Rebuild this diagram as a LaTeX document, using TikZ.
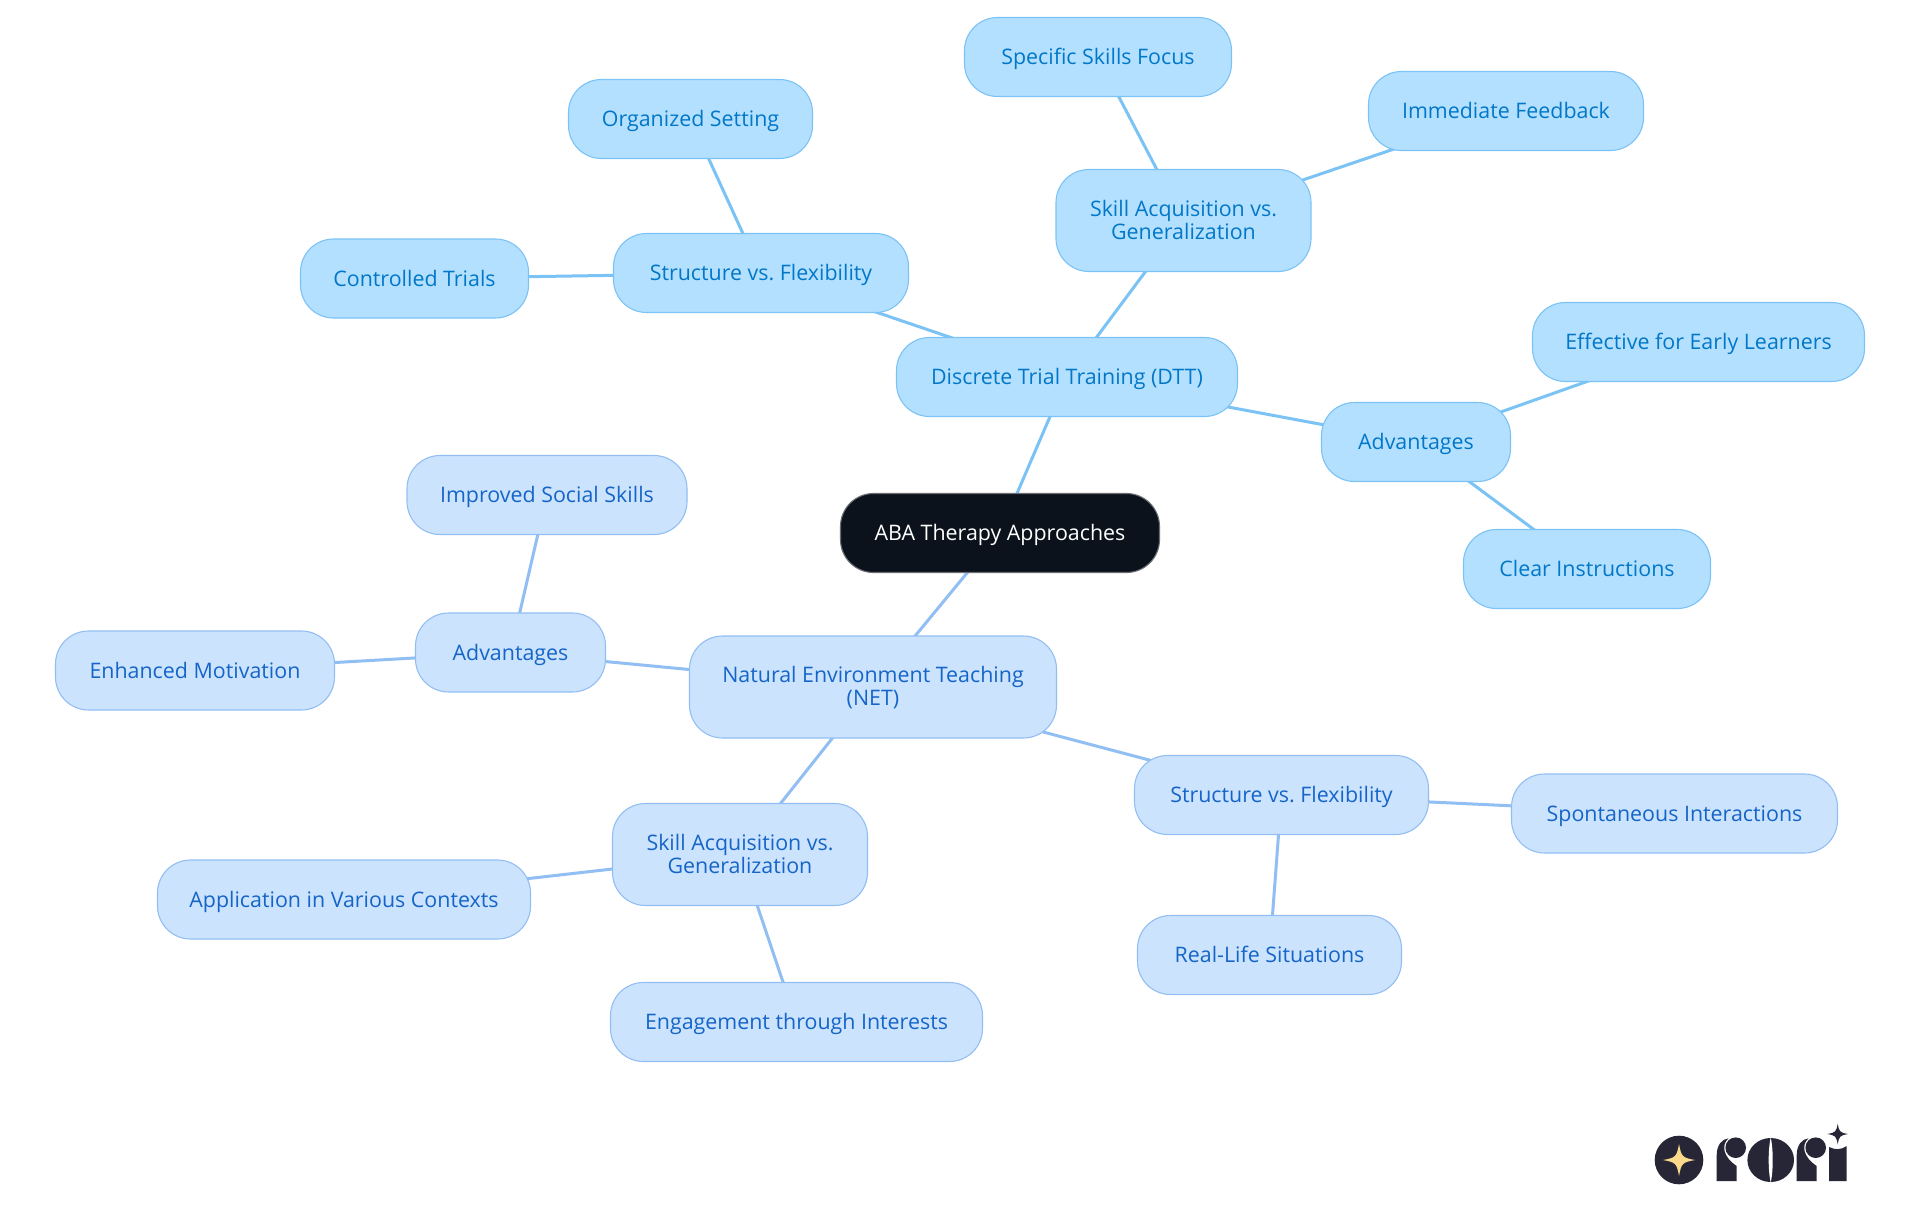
\documentclass[tikz,border=0pt]{standalone}
\usepackage{fontspec}
\setmainfont{Open Sans}
\usetikzlibrary{backgrounds}
\definecolor{rootfill}{HTML}{0B121B}
\definecolor{rootline}{HTML}{6B6F75}
\definecolor{upfill}{HTML}{B3E0FF}
\definecolor{upline}{HTML}{7CC3F5}
\definecolor{uptext}{HTML}{0277C8}
\definecolor{lowfill}{HTML}{CCE3FD}
\definecolor{lowline}{HTML}{92BFF3}
\definecolor{lowtext}{HTML}{1565C8}
\definecolor{logodark}{HTML}{272636}
\definecolor{logostar}{HTML}{FBD98A}
\newcommand{\twolines}[2]{\raisebox{0pt}[16pt][4pt]{#1}\\\raisebox{0pt}[10pt][1.6pt]{#2}}
\tikzset{
  x=1pt,y=-1pt,
  pill/.style={rectangle,rounded corners=33pt,line width=1.1pt,inner sep=0pt,align=center,
    font=\fontsize{21.4}{23.4}\selectfont\frenchspacing,minimum height=79pt},
  oneline/.style={text height=18pt,text depth=3pt},
  twoline/.style={minimum height=102pt},
  rootpill/.style={pill,fill=rootfill,draw=rootline,text=white},
  uppill/.style={pill,fill=upfill,draw=upline,text=uptext},
  lowpill/.style={pill,fill=lowfill,draw=lowline,text=lowtext},
  upedge/.style={draw=upline,line width=3pt},
  lowedge/.style={draw=lowline,line width=3pt},
  sparkle/.style={fill,line width=0pt},
}
\newcommand{\sparkleat}[3]{% centre x, y, arm
  \path[sparkle] (#1-#3,#2) .. controls (#1-0.2*#3,#2-0.15*#3) and (#1-0.15*#3,#2-0.2*#3) .. (#1,#2-#3)
   .. controls (#1+0.15*#3,#2-0.2*#3) and (#1+0.2*#3,#2-0.15*#3) .. (#1+#3,#2)
   .. controls (#1+0.2*#3,#2+0.15*#3) and (#1+0.15*#3,#2+0.2*#3) .. (#1,#2+#3)
   .. controls (#1-0.15*#3,#2+0.2*#3) and (#1-0.2*#3,#2+0.15*#3) .. (#1-#3,#2) -- cycle;}
\begin{document}
\begin{tikzpicture}
\useasboundingbox (0,0) rectangle (1920,1215);
\node[rootpill,oneline,minimum width=319pt] (root) at (1000,533) {ABA Therapy Approaches};
\node[uppill,oneline,minimum width=341pt] (dtt) at (1067,377) {Discrete Trial Training (DTT)};
\node[uppill,oneline,minimum width=244pt] (org) at (690.5,119) {Organized Setting};
\node[uppill,oneline,minimum width=295pt] (svf) at (761,273) {Structure vs. Flexibility};
\node[uppill,oneline,minimum width=228pt] (ctrl) at (414.5,278.5) {Controlled Trials};
\node[uppill,oneline,minimum width=267pt] (spec) at (1098,57) {Specific Skills Focus};
\node[uppill,oneline,minimum width=275pt] (imm) at (1506,111) {Immediate Feedback};
\node[uppill,twoline,minimum width=255pt] (skill) at (1183.5,220.5) {\twolines{Skill Acquisition vs.}{Generalization}};
\node[uppill,oneline,minimum width=189pt] (adv) at (1416,442) {Advantages};
\node[uppill,oneline,minimum width=332pt] (eff) at (1698.5,342) {Effective for Early Learners};
\node[uppill,oneline,minimum width=247pt] (clear) at (1587,569) {Clear Instructions};
\node[lowpill,twoline,minimum width=367pt] (net) at (873,687) {\twolines{Natural Environment Teaching}{(NET)}};
\node[lowpill,oneline,minimum width=190pt] (advl) at (510.5,652.5) {Advantages};
\node[lowpill,oneline,minimum width=280pt] (impr) at (547,495) {Improved Social Skills};
\node[lowpill,oneline,minimum width=279pt] (enh) at (195,670.5) {Enhanced Motivation};
\node[lowpill,twoline,minimum width=255pt] (skilll) at (740,854.5) {\twolines{Skill Acquisition vs.}{Generalization}};
\node[lowpill,oneline,minimum width=373pt] (app) at (344,899.5) {Application in Various Contexts};
\node[lowpill,oneline,minimum width=372pt] (eng) at (796.5,1022) {Engagement through Interests};
\node[lowpill,oneline,minimum width=294pt] (svfl) at (1281.5,795) {Structure vs. Flexibility};
\node[lowpill,oneline,minimum width=326pt] (spon) at (1674.5,813.5) {Spontaneous Interactions};
\node[lowpill,oneline,minimum width=264pt] (real) at (1269.5,955) {Real-Life Situations};
\begin{scope}[on background layer]
\fill[white] (0,0) rectangle (1920,1215);
\draw[upedge] (root.center) -- (dtt.center);
\draw[upedge] (dtt.center) -- (svf.center);
\draw[upedge] (svf.center) -- (org.center);
\draw[upedge] (svf.center) -- (ctrl.center);
\draw[upedge] (dtt.center) -- (skill.center);
\draw[upedge] (skill.center) -- (spec.center);
\draw[upedge] (skill.center) -- (imm.center);
\draw[upedge] (dtt.center) -- (adv.center);
\draw[upedge] (adv.center) -- (eff.center);
\draw[upedge] (adv.center) -- (clear.center);
\draw[lowedge] (root.center) -- (net.center);
\draw[lowedge] (net.center) -- (advl.center);
\draw[lowedge] (advl.center) -- (impr.center);
\draw[lowedge] (advl.center) -- (enh.center);
\draw[lowedge] (net.center) -- (skilll.center);
\draw[lowedge] (skilll.center) -- (app.center);
\draw[lowedge] (skilll.center) -- (eng.center);
\draw[lowedge] (net.center) -- (svfl.center);
\draw[lowedge] (svfl.center) -- (spon.center);
\draw[lowedge] (svfl.center) -- (real.center);
\end{scope}
% logo
\fill[logodark] (1679,1160) circle (24.3);
\begin{scope}[logostar]
\sparkleat{1679}{1160}{16}
\end{scope}
\begin{scope}[logodark]
% first r
\fill (1716.7,1181) -- (1716.7,1155) .. controls (1716.7,1145) and (1722,1139) .. (1728.5,1138.3)
  .. controls (1721,1145) and (1723,1157) .. (1736.7,1166) -- (1736.7,1181) -- cycle;
\fill (1735.7,1147.7) circle (10.3);
% o
\fill (1770.7,1160) ellipse (23.3 and 22);
\fill[white] (1770.7,1137) .. controls (1768,1150) and (1768,1170) .. (1770.7,1183)
  .. controls (1773.4,1170) and (1773.4,1150) .. (1770.7,1137) -- cycle;
% second r
\fill (1796.7,1181) -- (1796.7,1155) .. controls (1796.7,1145) and (1802,1139) .. (1808.5,1138.3)
  .. controls (1801,1145) and (1803,1157) .. (1816.7,1166) -- (1816.7,1181) -- cycle;
\fill (1815.7,1147.7) circle (10.3);
% i
\fill (1829,1181) -- (1829,1147) .. controls (1835,1150) and (1841,1150) .. (1846.7,1146) -- (1846.7,1181) -- cycle;
\sparkleat{1837.7}{1134}{10.3}
\end{scope}
\end{tikzpicture}
\end{document}
